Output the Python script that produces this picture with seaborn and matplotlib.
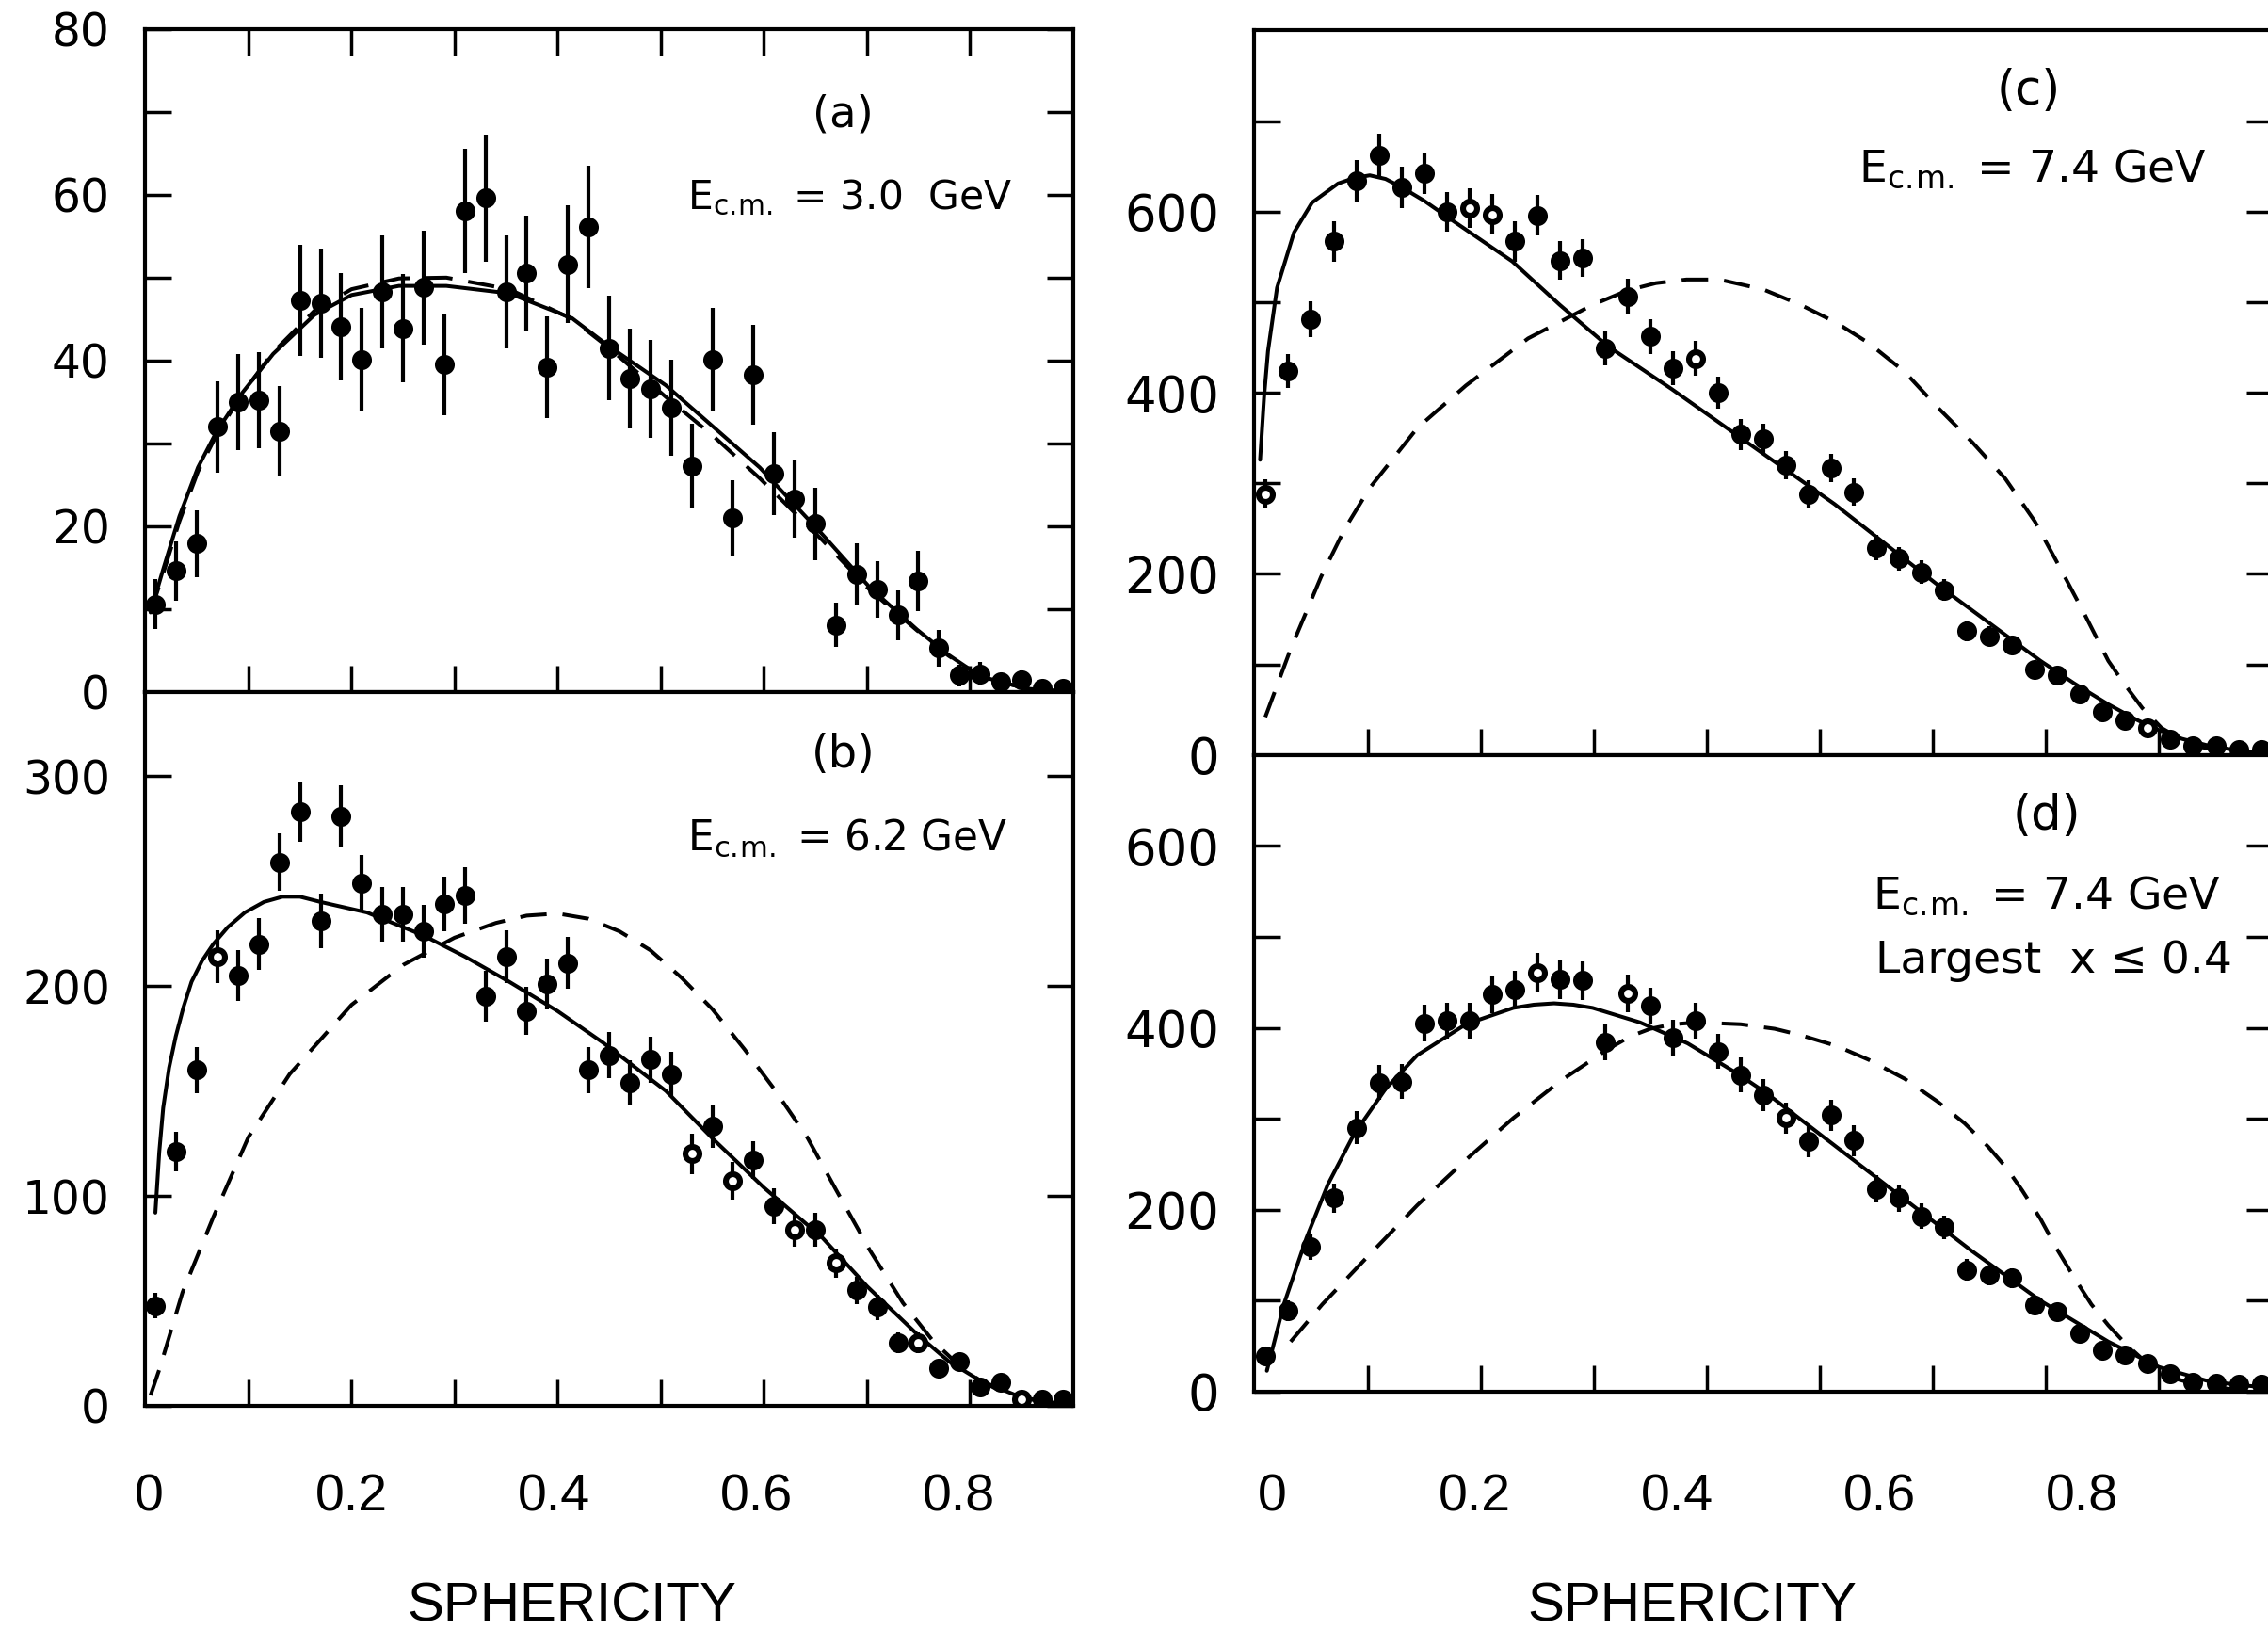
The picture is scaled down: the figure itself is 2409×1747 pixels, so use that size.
import numpy as np
import pandas as pd
import matplotlib
matplotlib.use("Agg")
import matplotlib.pyplot as plt
import matplotlib.transforms as mtransforms
import seaborn as sns

# ---------------- data ----------------
# sphericity bin centres
sph = [0.01, 0.03, 0.05, 0.07, 0.09, 0.11, 0.13, 0.15, 0.17, 0.19, 0.21, 0.23,
       0.25, 0.27, 0.29, 0.31, 0.33, 0.35, 0.37, 0.39, 0.41, 0.43, 0.45, 0.47,
       0.49, 0.51, 0.53, 0.55, 0.57, 0.59, 0.61, 0.63, 0.65, 0.67, 0.69, 0.71,
       0.73, 0.75, 0.77, 0.79, 0.81, 0.83, 0.85, 0.87, 0.89]

# (a) Ecm = 3.0 GeV
ya = [10.6, 14.6, 17.9, 32.0, 35.0, 35.2, 31.5, 47.2, 46.9, 44.1, 40.1, 48.3,
      43.9, 48.8, 39.5, 58.0, 59.6, 48.3, 50.5, 39.2, 51.6, 56.1, 41.5, 37.8,
      36.6, 34.3, 27.3, 40.1, 21.0, 38.3, 26.3, 23.3, 20.3, 8.1, 14.2, 12.4,
      9.3, 13.4, 5.3, 2.0, 2.2, 1.3, 1.5, 0.4, 0.4]
ea = [3.0, 3.6, 4.0, 5.5, 5.8, 5.8, 5.4, 6.7, 6.6, 6.5, 6.2, 6.8, 6.5, 6.9,
      6.1, 7.5, 7.7, 6.8, 7.0, 6.1, 7.1, 7.4, 6.3, 6.0, 5.9, 5.8, 5.1, 6.2,
      4.5, 6.0, 5.0, 4.7, 4.4, 2.7, 3.7, 3.4, 3.0, 3.6, 2.2, 1.3, 1.4, 1.0,
      1.1, 0.5, 0.5]
a_solid_x = [0.005, 0.017, 0.033, 0.051, 0.069, 0.094, 0.124, 0.164, 0.200, 0.246,
             0.292, 0.353, 0.414, 0.450, 0.505, 0.596, 0.657, 0.703, 0.749, 0.779,
             0.810, 0.855, 0.900]
a_solid_y = [9.6, 14.7, 21.2, 27.1, 31.4, 36.1, 40.8, 45.5, 47.9, 49.0, 49.0, 48.1,
             45.1, 41.7, 37.0, 27.1, 19.0, 12.6, 7.5, 4.5, 1.9, 0.4, 0.0]
a_dash_x = [0.005, 0.017, 0.033, 0.051, 0.069, 0.094, 0.124, 0.164, 0.200, 0.246,
            0.292, 0.353, 0.414, 0.450, 0.505, 0.550, 0.596, 0.657, 0.703, 0.749,
            0.779, 0.810, 0.855, 0.900]
a_dash_y = [9.6, 14.2, 20.6, 26.6, 31.0, 36.0, 41.0, 46.0, 48.6, 49.9, 50.0, 48.6,
            45.0, 41.5, 35.6, 31.0, 25.8, 18.3, 12.3, 7.4, 4.4, 1.9, 0.4, 0.0]

# (b) Ecm = 6.2 GeV
yb = [47.7, 121, 160, 214, 205, 220, 259, 283, 231, 281, 249, 234, 234, 226,
      239, 243, 195, 214, 188, 201, 211, 160, 167, 154, 165, 158, 120, 133,
      107, 117, 95, 84, 84, 68, 55, 47, 30, 30, 18, 21, 9, 11, 3, 3, 3]
eb = [6, 9.5, 11, 12.5, 12, 12.5, 13.5, 14.5, 13, 14.5, 13.5, 13, 13, 12.5,
      13, 13.5, 12, 12.5, 11.5, 12, 12.5, 11, 11, 10.5, 11, 10.5, 9.5, 10, 9,
      9, 8.5, 8, 8, 7, 6.5, 6, 5, 5, 4, 4, 3, 3, 2, 2, 2]
b_open = [3, 26, 28, 31, 33, 37, 42]
b_solid_x = [0.0097, 0.0135, 0.0173, 0.023, 0.0295, 0.037, 0.0448, 0.055, 0.066,
             0.080, 0.0966, 0.115, 0.133, 0.150, 0.170, 0.215, 0.270, 0.310, 0.353,
             0.400, 0.444, 0.505, 0.551, 0.600, 0.657, 0.700, 0.749, 0.780, 0.810,
             0.850, 0.900]
b_solid_y = [92, 121, 142, 161, 176, 190, 202, 212, 220, 228, 235, 240, 242.5,
             242.5, 240, 235, 224, 214, 202, 188, 173, 150, 127, 104, 80, 57, 34,
             21, 12, 4, 0]
b_dash_x = [0.005, 0.014, 0.036, 0.066, 0.100, 0.140, 0.200, 0.250, 0.300, 0.340,
            0.370, 0.400, 0.430, 0.460, 0.490, 0.520, 0.550, 0.581, 0.610, 0.642,
            0.670, 0.703, 0.735, 0.764, 0.790, 0.810, 0.830, 0.849, 0.870, 0.900]
b_dash_y = [5, 18, 54, 90, 128, 158, 191, 210, 223, 230, 233.5, 234.5, 232, 226,
            217, 204, 189, 170, 151, 128, 103, 74, 49, 31, 19, 12, 7, 4, 2, 0]

# (c) Ecm = 7.4 GeV
yc = [288, 424, 481, 567, 634, 662, 627, 642, 600, 604, 597, 567, 596, 546,
      549, 449, 506, 462, 427, 438, 400, 354, 349, 320, 288, 317, 290, 229,
      217, 202, 182, 137, 131, 121, 94, 88, 67, 48, 38, 30, 18, 10, 10, 6, 6]
ec = [16, 19, 20, 22, 23, 24, 23, 23, 22, 22, 22, 22, 22, 21, 21, 19, 20, 19,
      19, 19, 18, 17, 17, 16, 15, 16, 15, 14, 13, 13, 12, 11, 11, 10, 9, 9, 8,
      7, 6, 5, 4, 3, 3, 2, 2]
c_open = [0, 9, 10, 19, 39]
c_solid_x = [0.005, 0.0085, 0.012, 0.020, 0.035, 0.051, 0.074, 0.088, 0.102, 0.116,
             0.130, 0.150, 0.173, 0.228, 0.270, 0.313, 0.369, 0.428, 0.513, 0.604,
             0.695, 0.725, 0.755, 0.780, 0.799, 0.820, 0.845, 0.870, 0.900]
c_solid_y = [326, 395, 446, 516, 577, 610, 631, 637, 640, 636, 627, 612, 592, 545,
             497, 451, 404, 352, 277, 188, 104, 79, 56, 39, 28, 18, 10, 5, 2]
c_dash_x = [0.0096, 0.032, 0.059, 0.080, 0.102, 0.144, 0.187, 0.242, 0.299, 0.330,
            0.355, 0.382, 0.411, 0.450, 0.483, 0.515, 0.543, 0.575, 0.604, 0.635,
            0.664, 0.690, 0.710, 0.733, 0.755, 0.770, 0.785, 0.802, 0.820, 0.840,
            0.860, 0.900]
c_dash_y = [42, 117, 197, 250, 295, 361, 408, 460, 497, 513, 521, 525, 525, 514,
            497, 477, 455, 423, 384, 345, 305, 258, 212, 158, 104, 77, 52, 30, 17,
            8, 3, 0]

# (d) Ecm = 7.4 GeV, largest x <= 0.4
yd = [39, 89, 159, 213, 290, 340, 341, 405, 408, 408, 437, 442, 461, 453, 452,
      384, 438, 424, 389, 408, 374, 348, 326, 301, 275, 304, 276, 223, 213, 193,
      181, 134, 128, 125, 95, 88, 64, 45, 40, 31, 20, 10, 9, 8, 8]
ed = [8, 11, 14, 16, 18, 19, 19, 20, 20, 20, 21, 21, 21, 21, 21, 20, 21, 20,
      20, 20, 19, 19, 18, 17, 17, 17, 17, 15, 15, 14, 13, 12, 11, 11, 10, 9, 8,
      7, 6, 6, 4, 3, 3, 3, 3]
d_open = [12, 16, 23]
d_solid_x = [0.011, 0.026, 0.046, 0.065, 0.088, 0.116, 0.144, 0.187, 0.229, 0.247,
             0.265, 0.282, 0.299, 0.341, 0.383, 0.428, 0.453, 0.543, 0.634, 0.695,
             0.755, 0.800, 0.845, 0.890]
d_solid_y = [23, 96, 169, 228, 283, 333, 370, 404, 422, 425.5, 427, 425.5, 422,
             406, 383, 349, 328, 242, 155, 100, 55, 27, 11, 5]
d_dash_x = [0.032, 0.060, 0.102, 0.144, 0.187, 0.229, 0.271, 0.313, 0.333, 0.350,
            0.370, 0.392, 0.430, 0.460, 0.483, 0.515, 0.543, 0.575, 0.604, 0.628,
            0.649, 0.665, 0.679, 0.695, 0.709, 0.725, 0.740, 0.755, 0.770, 0.785,
            0.800, 0.815, 0.830, 0.855, 0.880]
d_dash_y = [55, 96, 151, 205, 255, 301, 342, 377, 391, 399, 404, 406, 404, 399,
            392, 380, 365, 344, 319, 295, 269, 246, 221, 190, 158, 125, 96, 73, 53,
            36, 23, 14, 9, 4, 1]

x_tick_text = ["0", "0.2", "0.4", "0.6", "0.8"]
x_tick_vals = [0.0, 0.2, 0.4, 0.6, 0.8]
x_title = "SPHERICITY"

# ---------------- style ----------------
sns.set_theme(style="ticks")
plt.rcParams["font.family"] = ["DejaVu Sans"]
plt.rcParams["mathtext.fontset"] = "dejavusans"

W, H = 2409, 1747
fig = plt.figure(figsize=(W / 100, H / 100), dpi=100)

LW = 2.9
DASH = (0, (7.0, 4.2))


def panel(rect, y, err, open_idx, sx, sy, dx, dy, ylim, major, minor,
          top_ticks, tag, lines, tag_pos, text_pos, fs_tick, fs_text):
    ax = fig.add_axes(rect)
    df = pd.DataFrame({"x": sph, "y": y, "e": err})
    ax.errorbar(df["x"], df["y"], yerr=df["e"], fmt="none", ecolor="black",
                elinewidth=3.0, capsize=0, zorder=3)
    sns.scatterplot(data=df, x="x", y="y", ax=ax, color="black", s=230,
                    linewidth=0, zorder=4, legend=False)
    if open_idx:
        dfo = df.iloc[open_idx]
        sns.scatterplot(data=dfo, x="x", y="y", ax=ax, color="white", s=40,
                        linewidth=0, zorder=5, legend=False)
    sns.lineplot(x=sx, y=sy, ax=ax, color="black", lw=LW, sort=False,
                 estimator=None, zorder=2)
    sns.lineplot(x=dx, y=dy, ax=ax, color="black", lw=LW, sort=False,
                 estimator=None, linestyle=DASH, zorder=2)
    ax.set_xlim(0, 0.9)
    ax.set_ylim(*ylim)
    ax.set_xlabel("")
    ax.set_ylabel("")
    ax.set_xticks([0.1, 0.2, 0.3, 0.4, 0.5, 0.6, 0.7, 0.8])
    ax.set_xticklabels([])
    ax.set_yticks(major)
    ax.set_yticklabels([str(v) for v in major])
    ax.set_yticks(minor, minor=True)
    ax.tick_params(axis="both", which="both", direction="in", length=20,
                   width=2.5, color="black", right=True, top=top_ticks,
                   bottom=True, labelbottom=False)
    ax.tick_params(axis="y", which="major", labelsize=fs_tick, pad=27,
                   labelcolor="black")
    for s in ax.spines.values():
        s.set_visible(True)
        s.set_linewidth(3)
        s.set_color("black")
    ax.text(tag_pos[0], tag_pos[1], tag, transform=ax.transAxes,
            fontsize=fs_text + 3, ha="center", va="center", color="black")
    for (tx, ty), line in zip(text_pos, lines):
        ax.text(tx, ty, line, transform=ax.transAxes, fontsize=fs_text,
                ha="left", va="center", color="black")
    return ax


ECM = r"E$_{\rm c.\!m.}$ = "

panel([0.0641, 0.5793, 0.4090, 0.4031], ya, ea, [], a_solid_x, a_solid_y,
      a_dash_x, a_dash_y, (0, 80), [0, 20, 40, 60, 80], [10, 30, 50, 70], True,
      "(a)", [ECM + "3.0  GeV"], (0.752, 0.871), [(0.584, 0.745)], 35, 30.5)
panel([0.0641, 0.1454, 0.4090, 0.4339], yb, eb, b_open, b_solid_x, b_solid_y,
      b_dash_x, b_dash_y, (0, 340), [0, 100, 200, 300], [], False,
      "(b)", [ECM + "6.2 GeV"], (0.752, 0.912), [(0.584, 0.796)], 35, 31.5)
panel([0.5531, 0.5410, 0.4488, 0.4405], yc, ec, c_open, c_solid_x, c_solid_y,
      c_dash_x, c_dash_y, (0, 800), [0, 200, 400, 600], [100, 300, 500, 700],
      False, "(c)", [ECM + "7.4 GeV"], (0.761, 0.916), [(0.593, 0.808)], 38, 34)
panel([0.5531, 0.1540, 0.4488, 0.3870], yd, ed, d_open, d_solid_x, d_solid_y,
      d_dash_x, d_dash_y, (0, 700), [0, 200, 400, 600], [100, 300, 500], False,
      "(d)", [ECM + "7.4 GeV", "Largest  x \u2264 0.4"], (0.778, 0.904),
      [(0.607, 0.779), (0.610, 0.677)], 38, 34)

# ---- pasted-on sphericity scale and titles below the panels ----
for rect, xl, cx in [([0.0641, 0.0, 0.4090, 0.01], (-0.00357, 0.9129), 0.2519),
                     ([0.5531, 0.0, 0.4488, 0.01], (-0.01786, 0.98757), 0.746)]:
    lab = fig.add_axes(rect)
    lab.set_xlim(*xl)
    lab.set_axis_off()
    tr = mtransforms.blended_transform_factory(lab.transData, fig.transFigure)
    for v, t in zip(x_tick_vals, x_tick_text):
        fig.text(v, 0.0893, t, transform=tr, ha="center", va="center",
                 fontsize=40, family=["Liberation Sans", "DejaVu Sans"],
                 color="black")
    fig.text(cx, 0.0232, x_title, ha="center", va="center", fontsize=42,
             family=["Liberation Sans", "DejaVu Sans"], color="black")

fig.savefig("out.png", dpi=100, facecolor="white")
